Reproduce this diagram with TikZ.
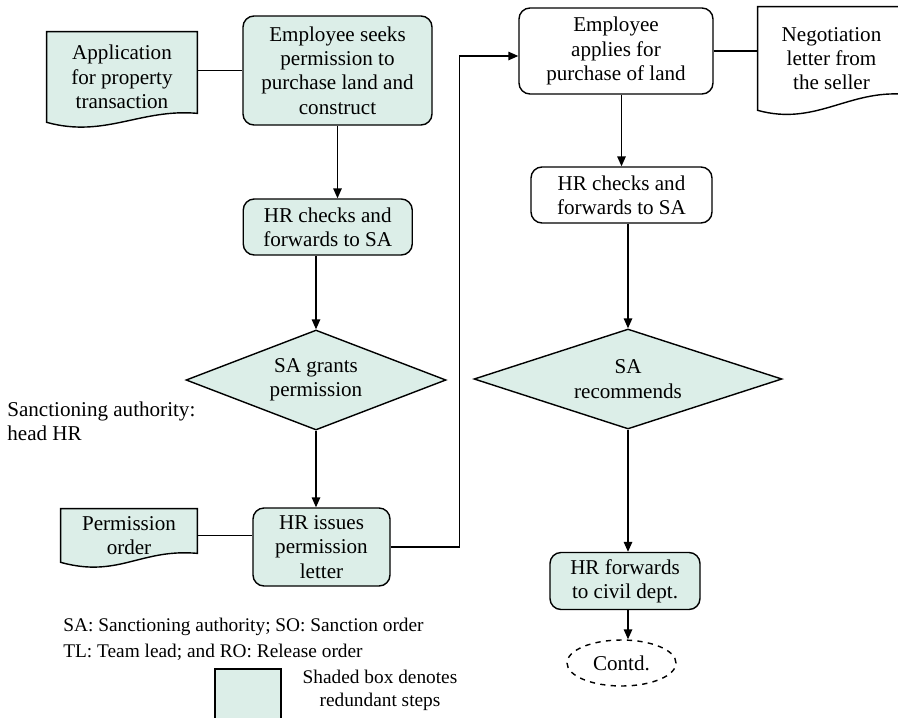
\documentclass[tikz,border=0pt]{standalone}
\usepackage{fontspec}
\setmainfont{Liberation Serif}
\usepackage{tikz}
\usetikzlibrary{arrows.meta,positioning,backgrounds,shapes}
\definecolor{redfill}{HTML}{DCEEE8}
\tikzset{
  stepnode/.style={rectangle,rounded corners=2.2mm,draw=black,line width=0.8pt,align=center,inner sep=1pt,font=\fontsize{12}{13.8}\selectfont},
  rednode/.style={stepnode,fill=redfill},
  decnode/.style={diamond,draw=black,line width=0.8pt,fill=redfill,align=center,inner sep=0pt,shape aspect=3,font=\fontsize{12}{13.8}\selectfont},
  docnode/.style={align=center,inner sep=0pt,font=\fontsize{12}{13.8}\selectfont},
  docedge/.style={draw=black,line width=0.8pt},
  endnode/.style={ellipse,draw=black,dashed,line width=0.8pt,font=\fontsize{12}{13.8}\selectfont},
  notenode/.style={align=left,inner sep=0pt},
  diredge/.style={-{Triangle[length=2mm,width=1.7mm]},line width=0.8pt},
  linkedge/.style={line width=0.8pt},
}

\begin{document}
\begin{tikzpicture}
  \useasboundingbox (0,0) rectangle (17.96,-14.34);
  % left column: permission
  \node[docnode,minimum width=3.0cm,minimum height=1.8cm] (napp) at (2.44,-1.54) {Application\\for property\\transaction};
  \node[rednode,minimum width=3.78cm,minimum height=2.18cm] (nseek) at (6.75,-1.41) {Employee seeks\\permission to\\purchase land and\\construct};
  \node[rednode,minimum width=3.38cm,minimum height=1.12cm] (nchk) at (6.555,-4.54) {HR checks and\\forwards to SA};
  \node[decnode,minimum width=5.2cm,minimum height=2.0cm] (ngrant) at (6.32,-7.6) {SA grants\\permission};
  \node[notenode,anchor=west,font=\fontsize{12}{13.8}\selectfont] (nsanc) at (0.14,-8.42) {Sanctioning authority:\\head HR};
  \node[rednode,minimum width=2.74cm,minimum height=1.56cm] (nissue) at (6.43,-10.94) {HR issues\\permission\\letter};
  \node[docnode,minimum width=2.72cm,minimum height=1.06cm] (nperm) at (2.58,-10.71) {Permission\\order};
  % right column: purchase
  \node[stepnode,minimum width=3.88cm,minimum height=1.72cm] (napply) at (12.32,-1.02) {Employee\\applies for\\purchase of land};
  \node[docnode,minimum width=2.94cm,minimum height=2.06cm] (nnego) at (16.63,-1.17) {Negotiation\\letter from\\the seller};
  \node[stepnode,minimum width=3.62cm,minimum height=1.12cm] (nchk2) at (12.43,-3.9) {HR checks and\\forwards to SA};
  \node[decnode,minimum width=6.16cm,minimum height=2.0cm] (nrec) at (12.56,-7.58) {SA\\recommends};
  \node[rednode,minimum width=3.0cm,minimum height=1.14cm] (nfwd) at (12.5,-11.62) {HR forwards\\to civil dept.};
  \node[endnode,minimum width=2.18cm,minimum height=0.92cm] (ncontd) at (12.43,-13.26) {Contd.};
  % key
  \node[notenode,anchor=west,font=\fontsize{11}{15}\selectfont] (nabbr) at (1.26,-12.78) {SA: Sanctioning authority; SO: Sanction order\\TL: Team lead; and RO: Release order};
  \node[rectangle,draw=black,line width=0.8pt,fill=redfill,minimum width=1.32cm,minimum height=1.8cm] (nkey) at (4.96,-14.28) {};
  \node[docnode,font=\fontsize{11}{13}\selectfont] (nkeytxt) at (7.6,-13.8) {Shaded box denotes\\redundant steps};

  \draw[linkedge] (nseek.west -| napp.east) -- (nseek.west);
  \draw[diredge] (nseek.south) -- (nseek.south |- nchk.north);
  \draw[diredge] (nchk.south -| ngrant.north) -- (ngrant.north);
  \draw[diredge] (ngrant.south) -- (ngrant.south |- nissue.north);
  \draw[linkedge] (nperm.east) -- (nperm.east -| nissue.west);
  \draw[diredge] (nissue.east) -- ++(1.38,0) |- ([yshift=-0.1cm]napply.west);
  \draw[linkedge] (napply.east) -- (napply.east -| nnego.west);
  \draw[diredge] (napply.south -| nchk2.north) -- (nchk2.north);
  \draw[diredge] (nchk2.south -| nrec.north) -- (nrec.north);
  \draw[diredge] (nrec.south) -- (nrec.south |- nfwd.north);
  \draw[diredge] (nfwd.south -| nrec.south) -- (nrec.south |- ncontd.north);

  \begin{scope}[on background layer]
    \foreach \doc/\col/\rise in {napp/redfill/0.18, nperm/redfill/0.18, nnego/white/0.32} {
      \draw[docedge,fill=\col] (\doc.north west) -- (\doc.south west)
        .. controls +(1.16,-0.32) and +(-1.14,0.1) .. ([yshift=\rise cm]\doc.south east)
        -- (\doc.north east) -- cycle;
    }
  \end{scope}
\end{tikzpicture}
\end{document}
